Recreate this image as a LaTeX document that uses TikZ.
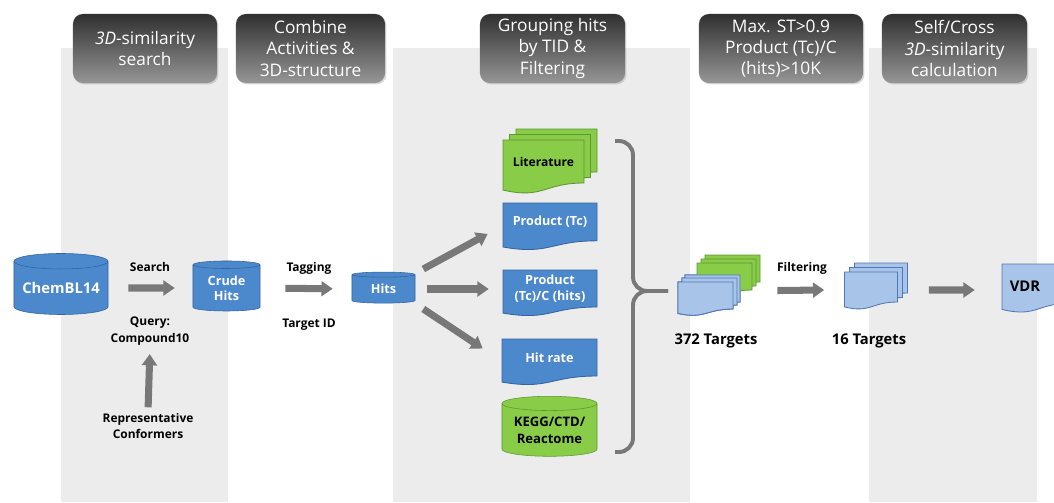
\documentclass[tikz,border=0pt]{standalone}
\usepackage{fontspec}
\setmainfont{Open Sans}
\usepackage{tikz}
\usetikzlibrary{arrows.meta,positioning,shapes.geometric,shadows,calc}
\definecolor{bandgray}{RGB}{236,236,236}
\definecolor{hdtop}{RGB}{48,48,48}
\definecolor{hdmid}{RGB}{85,85,85}
\definecolor{hdbot}{RGB}{150,150,150}
\definecolor{dbblue}{RGB}{76,136,204}
\definecolor{dbline}{RGB}{52,100,160}
\definecolor{paleblue}{RGB}{168,196,232}
\definecolor{paleline}{RGB}{80,120,180}
\definecolor{litgreen}{RGB}{136,204,72}
\definecolor{greenline}{RGB}{96,150,50}
\definecolor{arrowgray}{RGB}{120,120,120}
\tikzset{
  band/.style={fill=bandgray, draw=none},
  header/.style={rounded corners=7pt, top color=hdtop, middle color=hdmid,
                 bottom color=hdbot, text=white, align=center,
                 minimum height=1.725cm, inner sep=2pt,
                 font=\fontsize{12.3}{15}\selectfont,
                 drop shadow={opacity=0.3, shadow xshift=1pt, shadow yshift=-1pt}},
  db/.style={cylinder, shape border rotate=90, aspect=0.2, draw=dbline,
             fill=dbblue, text=white, align=center, inner sep=0pt,
             font=\bfseries\fontsize{9}{11}\selectfont},
  greendb/.style={db, fill=litgreen, draw=greenline, text=black,
                  font=\bfseries\fontsize{9.3}{12}\selectfont},
  doc/.style={draw=none, inner sep=0pt, align=center, text=white,
              font=\bfseries\fontsize{9}{11}\selectfont},
  bluepage/.style={fill=dbblue, draw=dbline, line width=0.6pt},
  palepage/.style={fill=paleblue, draw=paleline, line width=0.6pt},
  greenpage/.style={fill=litgreen, draw=greenline, line width=0.6pt},
  lbl/.style={align=center, inner sep=1pt,
              font=\bfseries\fontsize{8.5}{12}\selectfont},
  bigarrow/.style={-{Triangle[length=8pt,width=10.5pt]}, line width=5pt,
                   draw=arrowgray},
  bracepath/.style={draw=arrowgray, line width=2.8pt, rounded corners=10pt}
}
% page with wavy lower edge: style, centre x, centre y, width, height
\newcommand\docpage[5]{%
  \path[#1] ({#2-#4/2},{#3-#5/2}) -- ({#2+#4/2},{#3-#5/2}) -- ({#2+#4/2},{#3+#5/2})
    .. controls ({#2},{#3+#5/2}) and ({#2},{#3+0.881*#5}) .. ({#2-#4/2},{#3+0.6645*#5}) -- cycle;}

\begin{document}
\begin{tikzpicture}[x=0.025cm, y=-0.025cm]
  \useasboundingbox (0,0) rectangle (1054,502);
  \clip (0,0) rectangle (1054,502);
  % columns
  \fill[band] (61,48) rectangle (228,502);
  \fill[band] (393,48) rectangle (690,502);
  \fill[band] (869,48) rectangle (1037,502);

  % step headers
  \node[header, minimum width=3.6cm] (h1) at (145,48.5) {\textit{3D}-similarity\\search};
  \node[header, minimum width=3.725cm] (h2) at (310.5,48.5) {Combine\\Activities \&\\3D-structure};
  \node[header, minimum width=3.625cm] (h3) at (552.5,48.5) {Grouping hits\\by TID \&\\Filtering};
  \node[header, minimum width=4.1cm] (h4) at (781,48.5) {Max. ST>0.9\\Product (Tc)/C\\(hits)>10K};
  \node[header, minimum width=3.625cm] (h5) at (954.5,48.5) {Self/Cross\\\textit{3D}-similarity\\calculation};

  % search
  \node[db, minimum width=2.35cm, minimum height=1.525cm,
        font=\bfseries\fontsize{10.5}{12}\selectfont] (chembl) at (61,288) {ChemBL14};
  \node[db, minimum width=1.675cm, minimum height=1.25cm] (crude) at (226.5,288) {Crude\\Hits};
  \node[db, minimum width=1.575cm, minimum height=0.775cm] (hits) at (383.5,289) {Hits};
  \node[lbl] (search) at (150,267) {Search};
  \node[lbl] (query) at (150,331) {Query:\\Compound10};
  \node[lbl] (repr) at (148,426) {Representative\\Conformers};
  \node[lbl] (tagging) at (309,268) {Tagging};
  \node[lbl] (tid) at (309,325) {Target ID};
  \draw[bigarrow, shorten <=0.5cm, shorten >=0.45cm] (chembl.east) -- (crude.west);
  \draw[bigarrow, shorten <=0.1cm, shorten >=0.18cm] (repr.north) -- (query.south);
  \draw[bigarrow, shorten <=0.625cm, shorten >=0.475cm] (crude.east) -- (hits.west);

  % grouping
  \docpage{greenpage}{556.5}{150.5}{81}{43}
  \docpage{greenpage}{550}{156}{81}{43}
  \docpage{greenpage}{543.5}{161.5}{81}{43}
  \node[doc, text=black, font=\bfseries\fontsize{8.6}{11}\selectfont,
        minimum width=2.025cm, minimum height=1.075cm] (lit) at (543.5,161.5) {Literature};
  \docpage{bluepage}{550}{221.9}{94}{37.8}
  \node[doc, minimum width=2.35cm, minimum height=0.945cm] (prodtc) at (550,221.9) {Product (Tc)};
  \docpage{bluepage}{550}{288.5}{94}{37}
  \node[doc, minimum width=2.35cm, minimum height=0.925cm] (prodc) at (550,288.5) {Product\\(Tc)/C (hits)};
  \docpage{bluepage}{549.5}{357.5}{95}{37}
  \node[doc, minimum width=2.375cm, minimum height=0.925cm] (hitrate) at (549.5,357.5) {Hit rate};
  \node[greendb, minimum width=2.375cm, minimum height=1.5cm] (kegg) at (549.5,430) {KEGG/CTD/\\Reactome};
  \draw[bigarrow] ($(hits.east)+(8,-20)$) -- ($(prodtc.west)+(-15,12)$);
  \draw[bigarrow] ($(hits.east)+(12,0)$) -- ($(hits.east -| prodc.west)+(-14,0)$);
  \draw[bigarrow] ($(hits.east)+(8,20)$) -- ($(hitrate.west)+(-19,-9)$);
  \draw[bracepath] (615,141) -| (633,291) -- (668,291);
  \draw[bracepath] (668,291) -- (633,291) |- (615,452);

  % targets
  \foreach \d in {27,23,19}
    \docpage{greenpage}{705.5+\d}{295.5-\d}{55}{27}
  \foreach \d in {7,4,0}
    \docpage{palepage}{705.5+\d}{295.5-\d}{55}{27}
  \node[doc, minimum width=1.375cm, minimum height=0.675cm] (t372) at (705.5,295.5) {};
  \node[lbl, font=\bfseries\fontsize{10.5}{12}\selectfont] (n372) at (716,341) {372 Targets};
  \foreach \d in {10,5,0}
    \docpage{palepage}{871+\d}{287-0.9*\d}{53}{30}
  \node[doc, minimum width=1.325cm, minimum height=0.75cm] (t16) at (871,287) {};
  \node[lbl, font=\bfseries\fontsize{10.5}{12}\selectfont] (n16) at (869,341) {16 Targets};
  \node[lbl] (filtering) at (802,268) {Filtering};
  \draw[bigarrow] ($(t372.east)+(44,-5)$) -- ($(t16.west)+(-20,3)$);

  % result
  \docpage{palepage}{1037}{283.5}{70}{39}
  \node[doc, minimum width=1.75cm, minimum height=0.975cm] (vdr) at (1037,283.5) {};
  \node[lbl, font=\bfseries\fontsize{10.5}{12}\selectfont] (vdrname) at (1025,286) {VDR};
  \draw[bigarrow] ($(t16.east)+(31,3)$) -- ($(vdr.west)+(-27,6.5)$);
\end{tikzpicture}
\end{document}
